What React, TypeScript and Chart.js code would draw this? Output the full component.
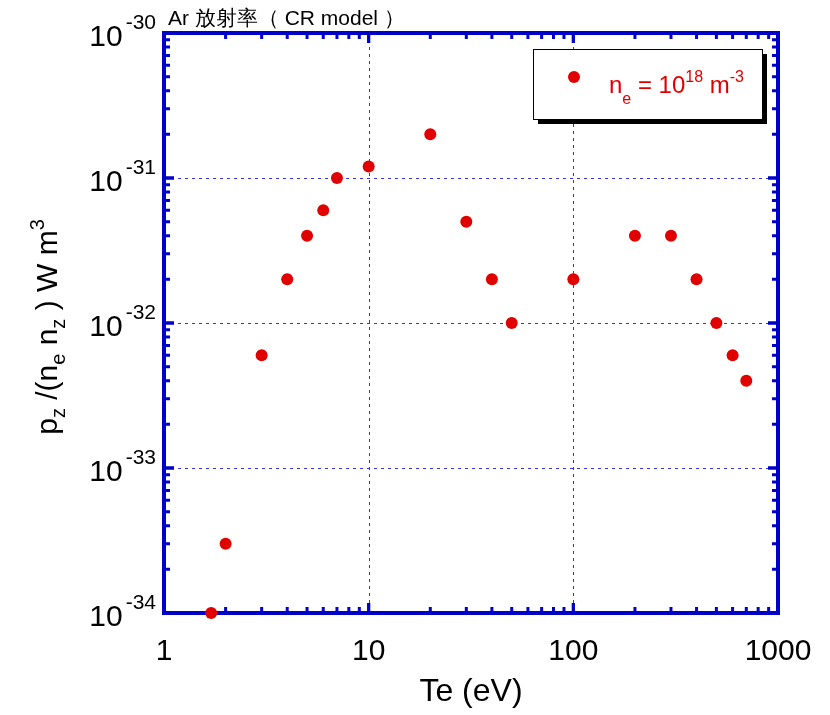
import React, { useEffect, useRef } from "react";
import { Chart, registerables } from "chart.js";

Chart.register(...registerables);

// ---- data ----
const teValues = [1.7, 2, 3, 4, 5, 6, 7, 10, 20, 30, 40, 50, 100, 200, 300, 400, 500, 600, 700];
const pzValues = [
  1e-34, 3e-34, 6e-33, 2e-32, 4e-32, 6e-32, 1e-31, 1.2e-31, 2e-31, 5e-32,
  2e-32, 1e-32, 2e-32, 4e-32, 4e-32, 2e-32, 1e-32, 6e-33, 4e-33,
];
const xTickExponents = [0, 1, 2, 3];
const xTickLabels = ["1", "10", "100", "1000"];
const yTickExponents = [-34, -33, -32, -31, -30];
const titleText = "Ar 放射率（ CR model ）";
const xAxisTitle = "Te (eV)";
const legendParts = [
  { t: "n", k: "main" },
  { t: "e", k: "sub" },
  { t: " = 10", k: "main" },
  { t: "18", k: "sup" },
  { t: " m", k: "main" },
  { t: "-3", k: "sup" },
];
const yTitleParts = [
  { t: "p", k: "main" },
  { t: "z", k: "sub" },
  { t: " /(n", k: "main" },
  { t: "e", k: "sub" },
  { t: " n", k: "main" },
  { t: "z", k: "sub" },
  { t: " ) W m", k: "main" },
  { t: "3", k: "sup" },
];

const FONT = "'Liberation Sans', Arial, sans-serif";
const BLUE = "#0000cc";
const GRID = "#3434dc";
const RED = "#e00000";

function drawParts(ctx: CanvasRenderingContext2D, parts: { t: string; k: string }[], x: number, y: number, main: number, small: number, subOff: number, supOff: number, color: string, measureOnly = false) {
  let cx = x;
  for (const p of parts) {
    const size = p.k === "main" ? main : small;
    ctx.font = `${size}px ${FONT}`;
    const w = ctx.measureText(p.t).width;
    if (!measureOnly) {
      ctx.fillStyle = color;
      const dy = p.k === "sub" ? subOff : p.k === "sup" ? -supOff : 0;
      ctx.fillText(p.t, cx, y + dy);
    }
    cx += w;
  }
  return cx - x;
}

const framePlugin = {
  id: "frame",
  beforeDatasetsDraw(chart: any) {
    const { ctx, chartArea, scales } = chart;
    const { left, right, top, bottom } = chartArea;
    const xs = scales.x;
    const ys = scales.y;
    ctx.save();
    // dotted grid at decades
    ctx.strokeStyle = GRID;
    ctx.lineWidth = 1;
    ctx.setLineDash([3, 4]);
    for (const e of xTickExponents) {
      const px = Math.round(xs.getPixelForValue(Math.pow(10, e))) + 0.5;
      if (px < left + 3 || px > right - 3) continue;
      ctx.beginPath();
      ctx.moveTo(px, top);
      ctx.lineTo(px, bottom);
      ctx.stroke();
    }
    for (const e of yTickExponents) {
      const py = Math.round(ys.getPixelForValue(Math.pow(10, e))) + 0.5;
      if (py < top + 3 || py > bottom - 3) continue;
      ctx.beginPath();
      ctx.moveTo(left, py);
      ctx.lineTo(right, py);
      ctx.stroke();
    }
    ctx.setLineDash([]);
    // ticks
    ctx.strokeStyle = BLUE;
    ctx.lineWidth = 3;
    const majorLen = 10;
    const minorLen = 6;
    for (let e = xTickExponents[0]; e < xTickExponents[xTickExponents.length - 1]; e++) {
      for (let m = 1; m <= 10; m++) {
        const v = m * Math.pow(10, e);
        const px = xs.getPixelForValue(v);
        const len = m === 1 || m === 10 ? majorLen : minorLen;
        ctx.beginPath();
        ctx.moveTo(px, bottom);
        ctx.lineTo(px, bottom - len);
        ctx.moveTo(px, top);
        ctx.lineTo(px, top + len);
        ctx.stroke();
      }
    }
    for (let e = yTickExponents[0]; e < yTickExponents[yTickExponents.length - 1]; e++) {
      for (let m = 1; m <= 10; m++) {
        const v = m * Math.pow(10, e);
        const py = ys.getPixelForValue(v);
        const len = m === 1 || m === 10 ? majorLen : minorLen;
        ctx.beginPath();
        ctx.moveTo(left, py);
        ctx.lineTo(left + len, py);
        ctx.moveTo(right, py);
        ctx.lineTo(right - len, py);
        ctx.stroke();
      }
    }
    // border
    ctx.lineWidth = 4;
    ctx.strokeRect(left, top, right - left, bottom - top);
    ctx.restore();
  },
  afterDraw(chart: any) {
    const { ctx, chartArea, scales } = chart;
    const { left } = chartArea;
    const xs = scales.x;
    const ys = scales.y;
    ctx.save();
    ctx.textBaseline = "alphabetic";
    // y tick labels
    for (const e of yTickExponents) {
      const py = ys.getPixelForValue(Math.pow(10, e));
      ctx.fillStyle = "#000";
      ctx.font = `21px ${FONT}`;
      ctx.textAlign = "right";
      const sup = String(e);
      const sw = ctx.measureText(sup).width;
      const rx = left - 8;
      ctx.fillText(sup, rx, py - 4);
      ctx.font = `30px ${FONT}`;
      ctx.fillText("10", rx - sw - 3, py + 13);
    }
    // x tick labels
    ctx.textAlign = "center";
    ctx.font = `30px ${FONT}`;
    ctx.fillStyle = "#000";
    xTickExponents.forEach((e, i) => {
      const px = xs.getPixelForValue(Math.pow(10, e));
      ctx.fillText(xTickLabels[i], px, 660);
    });
    // x title
    ctx.font = `32px ${FONT}`;
    ctx.fillText(xAxisTitle, 471, 701);
    // title
    ctx.textAlign = "left";
    ctx.font = `21px ${FONT}`;
    ctx.fillText(titleText, 168, 25);
    // y title (rotated)
    ctx.save();
    const yw = drawParts(ctx, yTitleParts, 0, 0, 30, 20, 8, 13, "#000", true);
    ctx.translate(57, 327);
    ctx.rotate(-Math.PI / 2);
    drawParts(ctx, yTitleParts, -yw / 2, 0, 30, 20, 8, 13, "#000");
    ctx.restore();
    // legend
    const bx = 533, by = 49, bw = 229, bh = 70;
    ctx.fillStyle = "#000";
    ctx.fillRect(bx + 5, by + 5, bw, bh);
    ctx.fillStyle = "#fff";
    ctx.fillRect(bx, by, bw, bh);
    ctx.strokeStyle = "#000";
    ctx.lineWidth = 1;
    ctx.strokeRect(bx + 0.5, by + 0.5, bw, bh);
    ctx.fillStyle = RED;
    ctx.beginPath();
    ctx.arc(574, 77, 6, 0, Math.PI * 2);
    ctx.fill();
    drawParts(ctx, legendParts, 609, 93, 24, 16, 11, 11, RED);
    ctx.restore();
  },
};

export default function App() {
  const ref = useRef<HTMLCanvasElement | null>(null);
  useEffect(() => {
    document.body.style.margin = "0";
    const canvas = ref.current!;
    const chart = new Chart(canvas, {
      type: "scatter",
      data: {
        datasets: [
          {
            label: "ne = 10^18 m^-3",
            data: teValues.map((x, i) => ({ x, y: pzValues[i] })),
            backgroundColor: RED,
            borderColor: RED,
            borderWidth: 0,
            pointRadius: 6,
            clip: false as any,
          },
        ],
      },
      options: {
        responsive: false,
        animation: false,
        devicePixelRatio: 1,
        layout: { padding: { left: 164, right: 52, top: 33, bottom: 102 } },
        plugins: { legend: { display: false }, tooltip: { enabled: false }, title: { display: false } },
        scales: {
          x: {
            type: "logarithmic",
            min: 1,
            max: 1000,
            ticks: { display: false },
            grid: { display: false, drawTicks: false },
            border: { display: false },
          },
          y: {
            type: "logarithmic",
            min: 1e-34,
            max: 1e-30,
            ticks: { display: false },
            grid: { display: false, drawTicks: false },
            border: { display: false },
          },
        },
      },
      plugins: [framePlugin],
    });
    return () => chart.destroy();
  }, []);
  return <canvas ref={ref} width={830} height={715} style={{ display: "block", width: 830, height: 715 }} />;
}
